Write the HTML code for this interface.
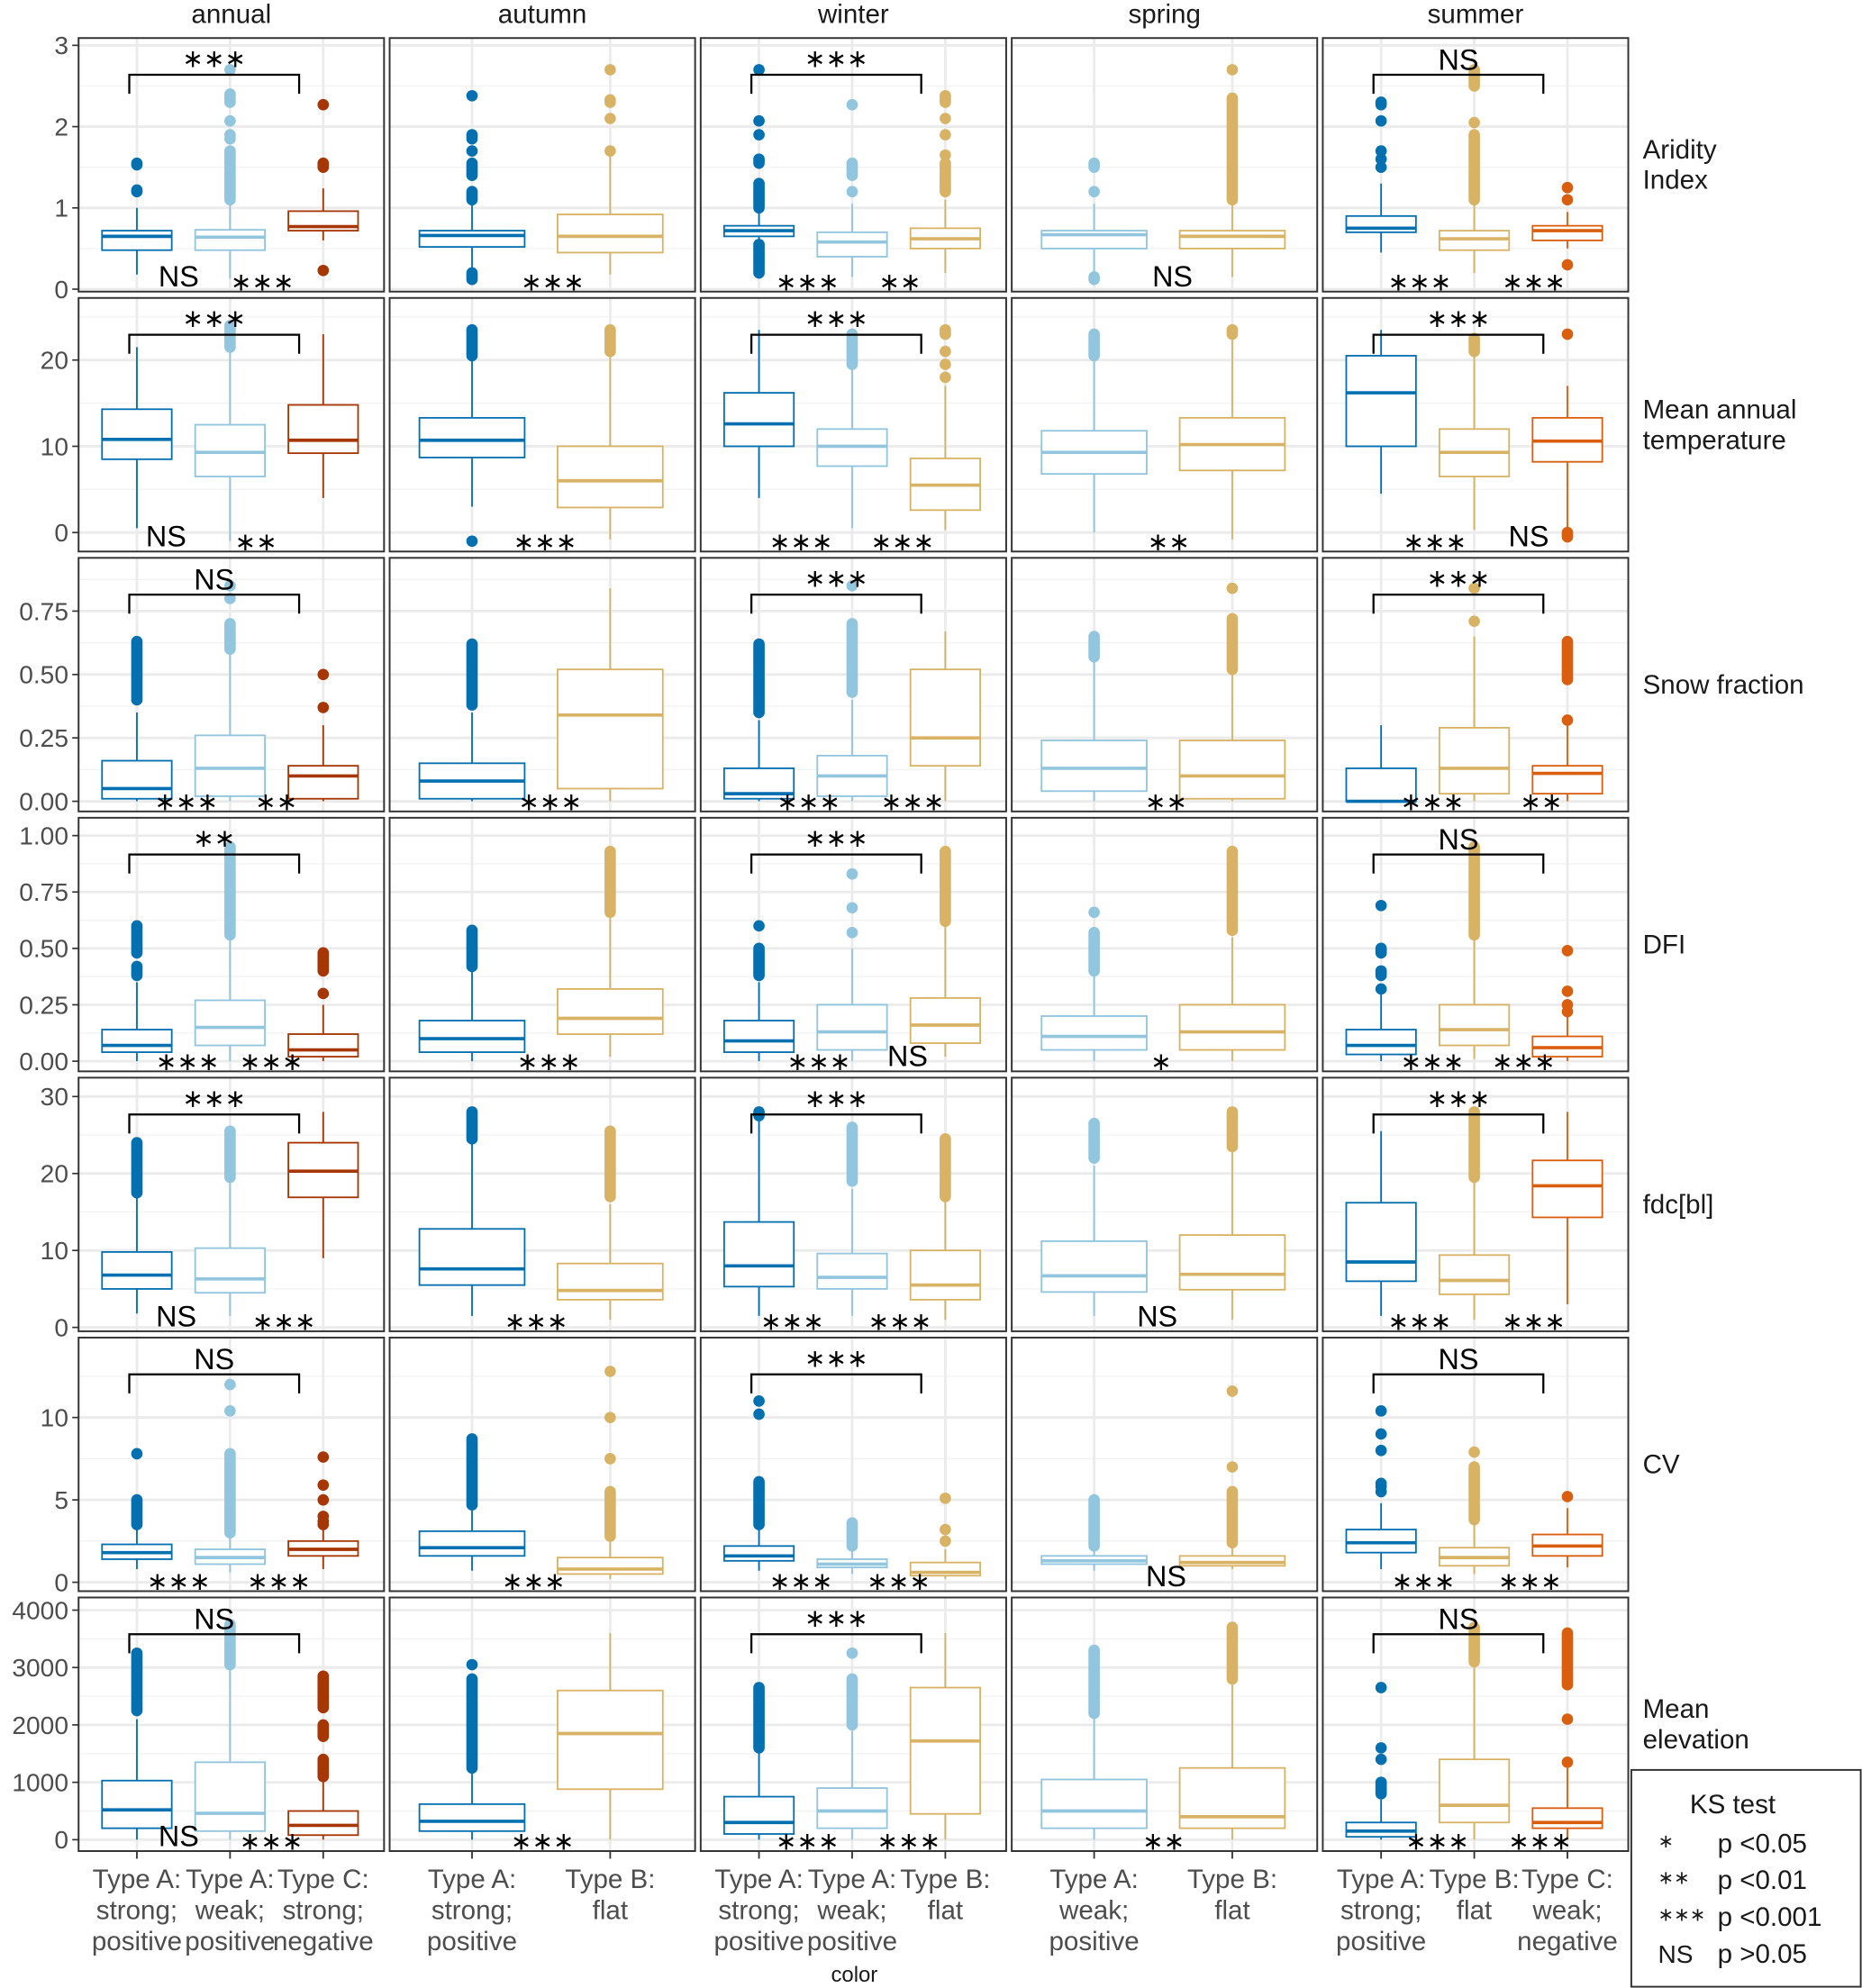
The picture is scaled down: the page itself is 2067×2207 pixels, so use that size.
<!DOCTYPE html>
<html><head><meta charset="utf-8"><style>
html,body{margin:0;padding:0;background:#fff;}
svg{display:block;}
text{font-family:"Liberation Sans Narrow","Liberation Sans",sans-serif;}
</style></head><body>
<svg id="chart" xmlns="http://www.w3.org/2000/svg" width="2067" height="2207" viewBox="0 0 1469 1568" preserveAspectRatio="none"></svg>
<script>
const colNames = ["annual","autumn","winter","spring","summer"];
const rowNames = [["Aridity","Index"],["Mean annual","temperature"],["Snow fraction"],["DFI"],["fdc[bl]"],["CV"],["Mean","elevation"]];
const colGroups = [
 [["Type A:","strong;","positive"],["Type A:","weak;","positive"],["Type C:","strong;","negative"]],
 [["Type A:","strong;","positive"],["Type B:","flat"]],
 [["Type A:","strong;","positive"],["Type A:","weak;","positive"],["Type B:","flat"]],
 [["Type A:","weak;","positive"],["Type B:","flat"]],
 [["Type A:","strong;","positive"],["Type B:","flat"],["Type C:","weak;","negative"]]
];
const colColors = [
 ["#0570b0","#92c5de","#a63603"],["#0570b0","#d9b365"],["#0570b0","#92c5de","#d9b365"],["#92c5de","#d9b365"],["#0570b0","#d9b365","#d95f0e"]
];
const rowDomains = [[-0.03,3.09],[-2.2,27.2],[-0.04,0.96],[-0.045,1.079],[-0.5,32.45],[-0.54,14.85],[-198,4220]];
const rowTicks = [[0,1,2,3],[0,10,20],[0,0.25,0.5,0.75],[0,0.25,0.5,0.75,1],[0,10,20,30],[0,5,10],[0,1000,2000,3000,4000]];
const rowTickLabels = [["0","1","2","3"],["0","10","20"],["0.00","0.25","0.50","0.75"],["0.00","0.25","0.50","0.75","1.00"],["0","10","20","30"],["0","5","10"],["0","1000","2000","3000","4000"]];
const rowMinor = [[0.5,1.5,2.5],[-5,5,15,25],[0.125,0.375,0.625,0.875],[0.125,0.375,0.625,0.875],[5,15,25],[2.5,7.5,12.5],[500,1500,2500,3500]];

const aridityStats = [
 [[0.18,0.48,0.65,0.72,1.0],[0.13,0.48,0.64,0.73,1.08],[0.6,0.72,0.77,0.96,1.24]],
 [[0.2,0.52,0.66,0.72,1.05],[0.18,0.45,0.65,0.92,1.65]],
 [[0.6,0.65,0.72,0.78,0.95],[0.15,0.4,0.58,0.7,1.05],[0.2,0.5,0.62,0.75,1.1]],
 [[0.2,0.5,0.67,0.72,1.05],[0.15,0.5,0.65,0.72,1.05]],
 [[0.45,0.7,0.75,0.9,1.3],[0.2,0.48,0.62,0.72,1.05],[0.5,0.6,0.72,0.78,0.95]]
];
const aridityOut = [
 [[1.2,1.22,1.53,1.55],[[1.1,1.7],1.85,1.9,2.07,[2.3,2.4],2.7],[0.23,[1.5,1.55],2.27]],
 [[[0.12,0.2],[1.1,1.2],[1.4,1.55],1.7,[1.85,1.9],2.38],[1.7,2.1,[2.3,2.33],2.7]],
 [[[0.2,0.55],[1.0,1.3],[1.55,1.6],1.9,2.07,2.7],[1.2,[1.4,1.55],2.27],[[1.2,1.55],1.65,1.9,2.1,[2.3,2.38]]],
 [[[0.12,0.15],1.2,[1.5,1.55]],[[1.1,2.35],2.7]],
 [[1.5,1.6,1.7,2.07,[2.27,2.3]],[[1.1,1.9],2.05,[2.5,2.7]],[0.3,1.1,1.25]]
];
const tempStats = [
 [[0.5,8.5,10.8,14.3,21.5],[-1,6.5,9.3,12.5,21],[4,9.2,10.7,14.8,23]],
 [[3,8.7,10.7,13.3,20],[-0.8,2.9,6,10,20.5]],
 [[4,10,12.6,16.2,23.5],[0.5,7.7,10,12,19],[0.3,2.6,5.5,8.6,17]],
 [[0,6.8,9.3,11.8,20],[-0.8,7.2,10.2,13.3,22.5]],
 [[4.5,10,16.2,20.5,23.5],[0.3,6.5,9.3,12,20.5],[0.5,8.2,10.6,13.3,17]]
];
const tempOut = [
 [[],[[21.5,24]],[]],
 [[-1,[20.5,23.5]],[[21,23.5]]],
 [[],[[19.5,23]],[18,19.5,21,[23,23.5]]],
 [[[20.5,23]],[[23,23.5]]],
 [[],[[21,22.5]],[[-0.5,0],23]]
];
const snowStats = [
 [[0,0.01,0.05,0.16,0.35],[0,0.02,0.13,0.26,0.6],[0,0.01,0.1,0.14,0.3]],
 [[0,0.01,0.08,0.15,0.35],[0,0.05,0.34,0.52,0.84]],
 [[0,0.01,0.03,0.13,0.32],[0,0.02,0.1,0.18,0.4],[0,0.14,0.25,0.52,0.67]],
 [[0,0.04,0.13,0.24,0.55],[0,0.01,0.1,0.24,0.5]],
 [[0,0,0,0.13,0.3],[0,0.03,0.13,0.29,0.65],[0,0.03,0.11,0.14,0.3]]
];
const snowOut = [
 [[[0.4,0.63]],[[0.6,0.7],0.8,0.85],[0.37,0.5]],
 [[[0.38,0.62]],[]],
 [[[0.35,0.62]],[[0.43,0.7],0.85],[]],
 [[[0.57,0.65]],[[0.52,0.72],0.84]],
 [[],[0.71,0.84],[0.32,[0.48,0.63]]]
];
const dfiStats = [
 [[0,0.04,0.07,0.14,0.35],[0,0.07,0.15,0.27,0.55],[0,0.02,0.05,0.12,0.25]],
 [[0,0.04,0.1,0.18,0.4],[0.02,0.12,0.19,0.32,0.65]],
 [[0,0.04,0.09,0.18,0.35],[0,0.05,0.13,0.25,0.5],[0.02,0.08,0.16,0.28,0.6]],
 [[0,0.05,0.11,0.2,0.38],[0,0.05,0.13,0.25,0.55]],
 [[0,0.03,0.07,0.14,0.3],[0.01,0.07,0.14,0.25,0.55],[0,0.02,0.06,0.11,0.2]]
];
const dfiOut = [
 [[[0.38,0.42],[0.48,0.6]],[[0.56,0.95]],[0.3,[0.4,0.48]]],
 [[[0.42,0.58]],[[0.66,0.93]]],
 [[[0.38,0.5],0.6],[0.57,0.68,0.83],[[0.62,0.93]]],
 [[[0.4,0.57],0.66],[[0.58,0.93]]],
 [[0.32,[0.38,0.4],[0.48,0.5],0.69],[[0.56,0.95]],[0.22,0.25,0.31,0.49]]
];
const fdcStats = [
 [[1.8,5,6.8,9.8,17],[1.5,4.5,6.3,10.3,19],[9,16.9,20.3,24,28]],
 [[1.5,5.5,7.6,12.8,24],[1,3.6,4.8,8.3,16]],
 [[1.5,5.3,8,13.7,27],[1.5,5,6.5,9.6,18],[1,3.6,5.5,10,16.5]],
 [[1.5,4.6,6.7,11.2,21],[1,4.9,6.9,12,23]],
 [[1.5,6,8.5,16.2,25.5],[1,4.3,6.1,9.4,19],[3,14.3,18.4,21.7,28]]
];
const fdcOut = [
 [[[17.5,24]],[[19.5,25.5]],[]],
 [[[24.5,28]],[[17,25.5]]],
 [[[27.5,28]],[[19,26]],[[17,24.5]]],
 [[[22,26.5]],[[23.5,28]]],
 [[],[[19.5,28]],[]]
];
const cvStats = [
 [[0.8,1.4,1.8,2.3,3.2],[0.6,1.1,1.5,2,2.8],[0.8,1.6,2,2.5,3.2]],
 [[0.7,1.6,2.1,3.1,4.5],[0.2,0.5,0.8,1.5,2.5]],
 [[0.7,1.3,1.6,2.2,3.2],[0.5,0.9,1.1,1.4,2],[0.2,0.4,0.6,1.2,2]],
 [[0.7,1.1,1.3,1.6,2],[0.8,1,1.2,1.6,2.2]],
 [[0.8,1.8,2.4,3.2,4.8],[0.5,1,1.5,2.1,3.5],[0.9,1.6,2.2,2.9,4.5]]
];
const cvOut = [
 [[[3.5,5],7.8],[[3,7.8],10.4,12],[3.5,3.7,4,5,5.9,7.6]],
 [[[4.7,8.7]],[[2.8,5.5],7.5,10,12.8]],
 [[[3.5,6.1],10.2,11],[[2.2,3.6]],[2.5,3.2,5.1]],
 [[[2.2,5]],[[2.4,5.5],7,11.6]],
 [[5.5,5.8,6,8,9,10.4],[[3.8,7],7.9],[5.2]]
];
const elevStats = [
 [[0,200,520,1030,2100],[0,150,460,1350,3000],[0,80,250,500,1100]],
 [[0,150,320,620,1250],[0,880,1850,2600,3600]],
 [[0,100,300,750,1550],[0,200,500,900,1900],[0,450,1720,2650,3600]],
 [[0,200,500,1050,2100],[0,200,400,1250,2700]],
 [[0,50,150,300,700],[0,300,600,1400,3000],[0,200,300,550,1250]]
];
const elevOut = [
 [[[2250,3250]],[[3050,3750]],[[1100,1400],[1800,2000],[2300,2850]]],
 [[[1250,2800],3050],[]],
 [[[1600,2650]],[[2000,2800],3250],[]],
 [[[2200,3300]],[[2800,3700]]],
 [[[800,1000],1400,1600,2650],[[3100,3700]],[1350,2100,[2700,3600]]]
];
const allStats = [aridityStats,tempStats,snowStats,dfiStats,fdcStats,cvStats,elevStats];
const allOut = [aridityOut,tempOut,snowOut,dfiOut,fdcOut,cvOut,elevOut];
const bracketLabels = [["***","***","NS"],["***","***","***"],["NS","***","***"],["**","***","NS"],["***","***","***"],["NS","***","NS"],["NS","***","NS"]];
const bottomLabels = [
 [[["NS",141],["***",207]],[["***",436]],[["***",637],["**",710]],[["NS",925]],[["***",1120],["***",1210]]],
 [[["NS",131],["**",202]],[["***",430]],[["***",632],["***",712]],[["**",922]],[["***",1132],["NS",1206]]],
 [[["***",147],["**",218]],[["***",434]],[["***",638],["***",720]],[["**",920]],[["***",1130],["**",1216]]],
 [[["***",148],["***",214]],[["***",433]],[["***",646],["NS",716]],[["*",916]],[["***",1130],["***",1202]]],
 [[["NS",139],["***",224]],[["***",423]],[["***",625],["***",710]],[["NS",913]],[["***",1120],["***",1210]]],
 [[["***",141],["***",220]],[["***",421]],[["***",632],["***",709]],[["NS",920]],[["***",1123],["***",1207]]],
 [[["NS",141],["***",214]],[["***",428]],[["***",637],["***",717]],[["**",918]],[["***",1134],["***",1215]]]
];

const NS="http://www.w3.org/2000/svg";
const svg=document.getElementById('chart');
function mk(tag,attrs,parent){const e=document.createElementNS(NS,tag);for(const k in attrs)e.setAttribute(k,attrs[k]);(parent||svg).appendChild(e);return e;}
function starText(s){return s.replace(/\*/g,'\u2217');}
const PX0=62, PW=241, PSTEP=245.4, PY0=30, PH=200, PSTEP_Y=205;
function panelX(c){return PX0+c*PSTEP;}
function panelY(r){return PY0+r*PSTEP_Y;}
function yScale(r,v){const d=rowDomains[r];const y0=panelY(r);return y0+PH-(v-d[0])/(d[1]-d[0])*PH;}
function groupX(c,g){const n=colGroups[c].length;const x0=panelX(c);return n===3?x0+46+g*73.5:x0+65+g*109;}
function boxW(c){return colGroups[c].length===3?55:83;}
function sigText(parent,lab,x,yNS,yStar){
 const isNS=lab==='NS';
 const t=mk('text',{x:x,y:isNS?yNS:yStar,'font-size':isNS?23:20,'text-anchor':'middle',fill:'#000','font-family':isNS?'"Liberation Sans Narrow","Liberation Sans",sans-serif':'"DejaVu Sans",sans-serif'},parent);
 t.textContent=isNS?lab:starText(lab);
 return t;
}

colNames.forEach((n,c)=>{const t=mk('text',{x:panelX(c)+PW/2,y:18,'font-size':21,'text-anchor':'middle',fill:'#1a1a1a'});t.textContent=n;

});
rowNames.forEach((lines,r)=>{const cy=panelY(r)+PH/2;const g=mk('g',{});


lines.forEach((l,i)=>{const t=mk('text',{x:1296,y:cy+7+(i-(lines.length-1)/2)*24,'font-size':21,fill:'#1a1a1a'},g);t.textContent=l;});});

for(let r=0;r<7;r++){
 const ax=mk('g',{});
 
 
 rowTicks[r].forEach((v,i)=>{const y=yScale(r,v);mk('line',{x1:57,x2:62,y1:y,y2:y,stroke:'#333','stroke-width':1.2},ax);
  const t=mk('text',{x:54,y:y+7,'font-size':20,'text-anchor':'end',fill:'#4d4d4d'},ax);t.textContent=rowTickLabels[r][i];});
 for(let c=0;c<5;c++){
  const x0=panelX(c),y0=panelY(r);
  const pg=mk('g',{});
  
  
  const clipId='cl'+r+'_'+c;
  const cp=mk('clipPath',{id:clipId},pg);mk('rect',{x:x0,y:y0,width:PW,height:PH},cp);
  const inner=mk('g',{'clip-path':'url(#'+clipId+')'},pg);
  rowMinor[r].forEach(v=>{const y=yScale(r,v);mk('line',{x1:x0,x2:x0+PW,y1:y,y2:y,stroke:'#f3f3f3','stroke-width':1},inner);});
  rowTicks[r].forEach(v=>{const y=yScale(r,v);mk('line',{x1:x0,x2:x0+PW,y1:y,y2:y,stroke:'#ebebeb','stroke-width':2},inner);});
  colGroups[c].forEach((gl,g)=>{const x=groupX(c,g);mk('line',{x1:x,x2:x,y1:y0,y2:y0+PH,stroke:'#ebebeb','stroke-width':2},inner);});
  colGroups[c].forEach((gl,g)=>{
   const s=allStats[r][c][g], col=colColors[c][g], x=groupX(c,g), w=boxW(c);
   const bg=mk('g',{},inner);
   
   
   mk('line',{x1:x,x2:x,y1:yScale(r,s[0]),y2:yScale(r,s[1]),stroke:col,'stroke-width':1.3},bg);
   mk('line',{x1:x,x2:x,y1:yScale(r,s[3]),y2:yScale(r,s[4]),stroke:col,'stroke-width':1.3},bg);
   mk('rect',{x:x-w/2,y:yScale(r,s[3]),width:w,height:Math.max(0.5,yScale(r,s[1])-yScale(r,s[3])),fill:'#fff',stroke:col,'stroke-width':1.3},bg);
   mk('line',{x1:x-w/2,x2:x+w/2,y1:yScale(r,s[2]),y2:yScale(r,s[2]),stroke:col,'stroke-width':2.6},bg);
   allOut[r][c][g].forEach(o=>{
    if(Array.isArray(o)){mk('line',{x1:x,x2:x,y1:yScale(r,o[0]),y2:yScale(r,o[1]),stroke:col,'stroke-width':9,'stroke-linecap':'round'},bg);}
    else mk('circle',{cx:x,cy:yScale(r,o),r:4.5,fill:col},bg);
   });
  });
  if(colGroups[c].length===3){
   const bx1=groupX(c,0)-6,bx2=groupX(c,2)-19,by=y0+29;
   const br=mk('path',{d:`M${bx1},${by+15} L${bx1},${by} L${bx2},${by} L${bx2},${by+15}`,fill:'none',stroke:'#000','stroke-width':1.6},pg);
   
   
   const lab=bracketLabels[r][[0,2,4].indexOf(c)];
   const t=sigText(pg,lab,(bx1+bx2)/2,by-4,by-6);
   
   
  }
  bottomLabels[r][c].forEach(bl=>{
   const t=sigText(pg,bl[0],bl[1],y0+PH-4,y0+PH-1);
   
   
  });
  mk('rect',{x:x0,y:y0,width:PW,height:PH,fill:'none',stroke:'#333','stroke-width':1.4},pg);
 }
}
for(let c=0;c<5;c++){
 const xg=mk('g',{});
 
 
 colGroups[c].forEach((lines,g)=>{const x=groupX(c,g);const yb=panelY(6)+PH;
  mk('line',{x1:x,x2:x,y1:yb,y2:yb+6,stroke:'#333','stroke-width':1.3},xg);
  lines.forEach((l,i)=>{const t=mk('text',{x:x,y:yb+29+i*24.5,'font-size':21,'text-anchor':'middle',fill:'#4d4d4d'},xg);t.textContent=l;});
 });
}
const xt=mk('text',{x:674,y:1563,'font-size':17,'text-anchor':'middle',fill:'#1a1a1a'});xt.textContent='color';


const lg=mk('g',{});


mk('rect',{x:1287,y:1396,width:181,height:171,fill:'#fff',stroke:'#333','stroke-width':1.4},lg);
let tt=mk('text',{x:1367,y:1430,'font-size':21,'text-anchor':'middle',fill:'#1a1a1a'},lg);tt.textContent='KS test';
const legKeys=["*","**","***","NS"], legVals=["p <0.05","p <0.01","p <0.001","p >0.05"];
legKeys.forEach((k,i)=>{const y=1461+i*29;
 let a=mk('text',{x:1308,y:k==='NS'?y:y-4,'font-size':k==='NS'?20:15,fill:'#1a1a1a','font-family':k==='NS'?'"Liberation Sans Narrow","Liberation Sans",sans-serif':'"DejaVu Sans",sans-serif'},lg);a.textContent=k==='NS'?k:starText(k);
 let b=mk('text',{x:1355,y:y,'font-size':21,fill:'#1a1a1a'},lg);b.textContent=legVals[i];});
</script>
</body></html>
